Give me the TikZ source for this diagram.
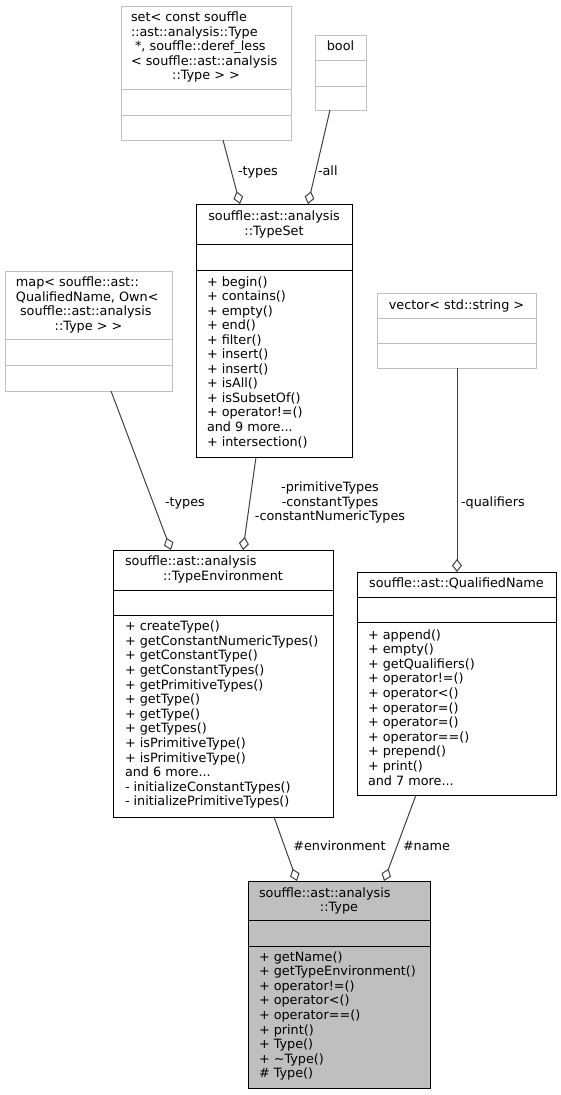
\documentclass[tikz,border=0pt]{standalone}
\usepackage{fontspec}
\setmainfont{DejaVu Sans}
\usetikzlibrary{arrows.meta,calc}
\definecolor{boxgray}{HTML}{BFBFBF}
\definecolor{edgegray}{HTML}{404040}
\newcommand\mydots{...}
\begin{document}
\begin{tikzpicture}[x=1pt,y=-1pt,
  every node/.style={font=\fontsize{12.8}{14.6}\selectfont, inner sep=0pt, outer sep=0pt},
  blackbox/.style={draw=black, line width=1pt, anchor=north west},
  graybox/.style={draw=boxgray, line width=1pt, anchor=north west},
  typebox/.style={draw=black, fill=boxgray, line width=1pt, anchor=north west},
  blackdiv/.style={draw=black, line width=1pt},
  graydiv/.style={draw=boxgray, line width=1pt},
  lefttxt/.style={anchor=base west},
  midtxt/.style={anchor=base},
  agg/.style={draw=edgegray, line width=1pt, -{Diamond[open, length=13pt, width=10pt]}},
  edgelbl/.style={anchor=base west},
]
\useasboundingbox (0,0) rectangle (561,1095);

% ---------- set box ----------
\node[graybox, minimum width=170pt, minimum height=134pt] (setb) at (121,6) {};
\draw[graydiv] ($(setb.north west)+(0,83)$) -- ($(setb.north east)+(0,83)$);
\draw[graydiv] ($(setb.north west)+(0,109)$) -- ($(setb.north east)+(0,109)$);
\node[lefttxt] (set1) at (131,21.7) {set< const souffle};
\node[lefttxt] (set2) at (131,36.2) {::ast::analysis::Type};
\node[lefttxt] (set3) at (131,50.7) {\ *, souffle::deref\_less};
\node[lefttxt] (set4) at (131,65.2) {< souffle::ast::analysis};
\node[midtxt] (set5) at (206,79.7) {::Type > >};

% ---------- bool box ----------
\node[graybox, minimum width=51pt, minimum height=75pt] (boolb) at (315,35) {};
\draw[graydiv] ($(boolb.north west)+(0,25.5)$) -- ($(boolb.north east)+(0,25.5)$);
\draw[graydiv] ($(boolb.north west)+(0,51)$) -- ($(boolb.north east)+(0,51)$);
\node[midtxt] (bool1) at (340.5,50.7) {bool};

% ---------- TypeSet ----------
\node[blackbox, minimum width=156pt, minimum height=253pt] (typeset) at (196,204) {};
\draw[blackdiv] ($(typeset.north west)+(0,40)$) -- ($(typeset.north east)+(0,40)$);
\draw[blackdiv] ($(typeset.north west)+(0,66)$) -- ($(typeset.north east)+(0,66)$);
\node[midtxt] (ts1) at (274,220.7) {souffle::ast::analysis};
\node[midtxt] (ts2) at (274,235.2) {::TypeSet};
\foreach [count=\i] \mline in {+ begin(),+ contains(),+ empty(),+ end(),+ filter(),+ insert(),+ insert(),+ isAll(),+ isSubsetOf(),+ operator!=(),and 9 more\mydots,+ intersection()}
  \node[lefttxt] (tsm\i) at (207,{286+14.55*(\i-1)}) {\mline};

% ---------- map box ----------
\node[graybox, minimum width=167pt, minimum height=120pt] (mapb) at (5,271) {};
\draw[graydiv] ($(mapb.north west)+(0,68.3)$) -- ($(mapb.north east)+(0,68.3)$);
\draw[graydiv] ($(mapb.north west)+(0,94)$) -- ($(mapb.north east)+(0,94)$);
\node[lefttxt] (map1) at (16,286.7) {map< souffle::ast::};
\node[lefttxt] (map2) at (16,301.2) {QualifiedName, Own<};
\node[lefttxt] (map3) at (16,315.7) {\ souffle::ast::analysis};
\node[midtxt] (map4) at (88.5,330.2) {::Type > >};

% ---------- vector box ----------
\node[graybox, minimum width=159pt, minimum height=75pt] (vecb) at (377,293) {};
\draw[graydiv] ($(vecb.north west)+(0,25)$) -- ($(vecb.north east)+(0,25)$);
\draw[graydiv] ($(vecb.north west)+(0,50)$) -- ($(vecb.north east)+(0,50)$);
\node[midtxt] (vec1) at (456.5,309.3) {vector< std::string >};

% ---------- TypeEnvironment ----------
\node[blackbox, minimum width=220pt, minimum height=267pt] (tenv) at (113,550) {};
\draw[blackdiv] ($(tenv.north west)+(0,40)$) -- ($(tenv.north east)+(0,40)$);
\draw[blackdiv] ($(tenv.north west)+(0,65)$) -- ($(tenv.north east)+(0,65)$);
\node[lefttxt] (te1) at (125,565.7) {souffle::ast::analysis};
\node[midtxt] (te2) at (223,580.2) {::TypeEnvironment};
\foreach [count=\i] \mline in {+ createType(),+ getConstantNumericTypes(),+ getConstantType(),+ getConstantTypes(),+ getPrimitiveTypes(),+ getType(),+ getType(),+ getTypes(),+ isPrimitiveType(),+ isPrimitiveType(),and 6 more\mydots,- initializeConstantTypes(),- initializePrimitiveTypes()}
  \node[lefttxt] (tem\i) at (125,{630.7+14.6*(\i-1)}) {\mline};

% ---------- QualifiedName ----------
\node[blackbox, minimum width=199pt, minimum height=223pt] (qn) at (357,572) {};
\draw[blackdiv] ($(qn.north west)+(0,25.3)$) -- ($(qn.north east)+(0,25.3)$);
\draw[blackdiv] ($(qn.north west)+(0,50.7)$) -- ($(qn.north east)+(0,50.7)$);
\node[midtxt] (qn1) at (456.5,587.7) {souffle::ast::QualifiedName};
\foreach [count=\i] \mline in {+ append(),+ empty(),+ getQualifiers(),+ operator!=(),+ operator<(),+ operator=(),+ operator=(),+ operator==(),+ prepend(),+ print(),and 7 more\mydots}
  \node[lefttxt] (qnm\i) at (368,{639+14.6*(\i-1)}) {\mline};

% ---------- Type ----------
\node[typebox, minimum width=182pt, minimum height=207pt] (typeb) at (248,881) {};
\draw[blackdiv] ($(typeb.north west)+(0,39)$) -- ($(typeb.north east)+(0,39)$);
\draw[blackdiv] ($(typeb.north west)+(0,65)$) -- ($(typeb.north east)+(0,65)$);
\node[lefttxt] (ty1) at (259,897.3) {souffle::ast::analysis};
\node[midtxt] (ty2) at (339,911.8) {::Type};
\foreach [count=\i] \mline in {+ getName(),+ getTypeEnvironment(),+ operator!=(),+ operator<(),+ operator==(),+ print(),+ Type(),+ \textasciitilde Type(),\# Type()}
  \node[lefttxt] (tym\i) at (259,{961+14.6*(\i-1)}) {\mline};

% ---------- connectors ----------
\draw[agg] ($(setb.south west)+(102,0)$) -- ($(typeset.north west)+(44,0)$);
\draw[agg] ($(boolb.south west)+(15,0)$) -- ($(typeset.north west)+(112,0)$);
\draw[agg] ($(mapb.south west)+(106,0)$) -- ($(tenv.north west)+(58,0)$);
\draw[agg] ($(typeset.south west)+(60,0)$) -- ($(tenv.north west)+(130,0)$);
\draw[agg] ($(vecb.south west)+(80,0)$) -- ($(qn.north west)+(100,0)$);
\draw[agg] ($(tenv.south west)+(161,0)$) -- ($(typeb.north west)+(49,0)$);
\draw[agg] ($(qn.south west)+(59,0)$) -- ($(typeb.north west)+(136,0)$);

% ---------- connector labels ----------
\node[edgelbl] (lbl1) at (238,175.7) {-types};
\node[edgelbl] (lbl2) at (318,175.7) {-all};
\node[edgelbl] (lbl3) at (165,506.7) {-types};
\node[midtxt] (lbl4a) at (330,491.7) {-primitiveTypes};
\node[midtxt] (lbl4b) at (330,506.2) {-constantTypes};
\node[midtxt] (lbl4c) at (330,520.7) {-constantNumericTypes};
\node[edgelbl] (lbl5) at (461,506.7) {-qualifiers};
\node[edgelbl] (lbl6) at (293.3,850) {\#environment};
\node[edgelbl] (lbl7) at (403,850) {\#name};
\end{tikzpicture}
\end{document}
